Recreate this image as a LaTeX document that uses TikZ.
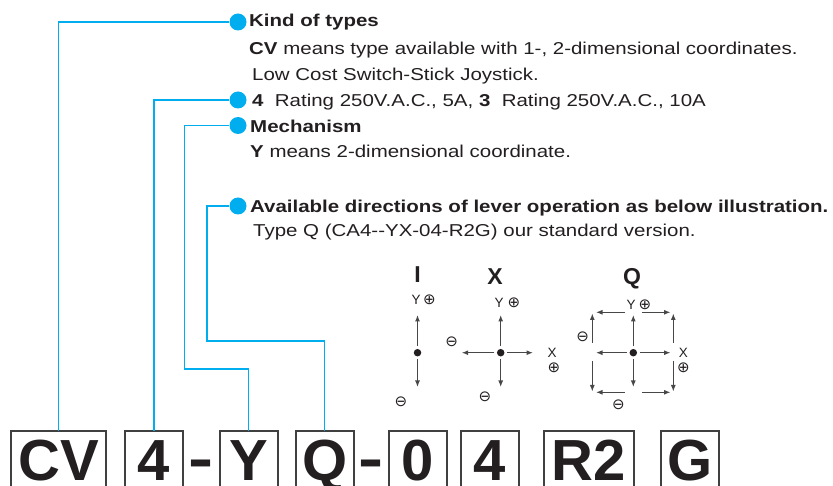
\documentclass[tikz,border=0pt]{standalone}
\usepackage{fontspec}
\setmainfont{Liberation Sans}
\newfontfamily\wide[FakeStretch=1.19]{Liberation Sans}
\newfontfamily\symf{DejaVu Sans}
\usetikzlibrary{arrows.meta}
\definecolor{cyanline}{RGB}{0,174,239}
\definecolor{ink}{RGB}{35,31,32}
\tikzset{
  dotb/.style={circle, fill=cyanline, inner sep=0pt, minimum size=17pt},
  link/.style={draw=cyanline, line width=1.1pt},
  codeframe/.style={draw=black!75, line width=1.2pt},
  codechar/.style={inner sep=0pt, anchor=base, text=ink,
    font=\fontsize{58}{58}\selectfont\bfseries},
  desc/.style={anchor=base west, inner sep=0pt, text=ink,
    font=\wide\fontsize{17.2}{20}\selectfont},
  dtitle/.style={anchor=base, inner sep=0pt, text=ink,
    font=\fontsize{23}{23}\selectfont\bfseries},
  arr/.style={-{Latex[length=6.5pt,width=5pt]}, draw=black!72, line width=1.1pt},
  cdot/.style={circle, fill=ink, inner sep=0pt, minimum size=7.5pt},
  sym/.style={inner sep=0pt, text=ink, font=\symf\fontsize{15}{15}\selectfont},
  axl/.style={inner sep=0pt, text=ink, font=\fontsize{13.5}{13.5}\selectfont},
}
\begin{document}
\begin{tikzpicture}[x=1pt,y=-1pt]
\useasboundingbox (0,0) rectangle (833,486);

% code characters
\node[codechar] (cCV) at (58.5,480) {CV};
\node[codechar] (c4) at (154,480) {4};
\node[codechar] (dash1) at (201.5,478) {\scalebox{1.3}[1]{-}};
\node[codechar] (cY) at (249,480) {Y};
\node[codechar] (cQ) at (325,480) {Q};
\node[codechar] (dash2) at (371,478) {\scalebox{1.3}[1]{-}};
\node[codechar] (c0) at (418,480) {0};
\node[codechar] (c4b) at (490,480) {4};
\node[codechar] (cR2) at (589,480) {R2};
\node[codechar] (cG) at (690,480) {G};

% code frames (open at the bottom edge of the picture)
\draw[codeframe] (11,492) |- (106,431) -- (106,492);
\draw[codeframe] (125,492) |- (183,431) -- (183,492);
\draw[codeframe] (220,492) |- (278,431) -- (278,492);
\draw[codeframe] (296,492) |- (354,431) -- (354,492);
\draw[codeframe] (389,492) |- (447,431) -- (447,492);
\draw[codeframe] (461,492) |- (519,431) -- (519,492);
\draw[codeframe] (544,492) |- (634,431) -- (634,492);
\draw[codeframe] (661,492) |- (719,431) -- (719,492);
\coordinate (fCV) at (58.5,431);
\coordinate (f4) at (154,431);
\coordinate (fY) at (248.5,431);
\coordinate (fQ) at (324.5,431);

% dots
\node[dotb] (d1) at (238,22) {};
\node[dotb] (d2) at (238,100) {};
\node[dotb] (d3) at (238,125.5) {};
\node[dotb] (d4) at (238,206) {};

% connectors
\draw[link] (fCV) |- (d1);
\draw[link] (f4) |- (d2);
\draw[link] (fY) |- (184.3,369) |- (d3);
\draw[link] (fQ) |- (207,341) |- (d4);

% descriptions
\node[desc] (t1) at (249,27) {\bfseries Kind of types};
\node[desc] (t2) at (249,55) {\textbf{CV} means type available with 1-, 2-dimensional coordinates.};
\node[desc] (t3) at (252,81) {Low Cost Switch-Stick Joystick.};
\node[desc] (t4) at (252,107) {\textbf{4}\ \ Rating 250V.A.C., 5A, \textbf{3}\ \ Rating 250V.A.C., 10A};
\node[desc] (t5) at (250,133) {\bfseries Mechanism};
\node[desc] (t6) at (250,158) {\textbf{Y} means 2-dimensional coordinate.};
\node[desc] (t7) at (250,213) {\bfseries Available directions of lever operation as below illustration.};
\node[desc] (t8) at (253,237) {Type Q (CA4-{}-YX-04-R2G) our standard version.};

% diagram I
\node[dtitle] (tI) at (417.5,282.5) {I};
\node[cdot] (ic) at (417.5,352.7) {};
\coordinate (iu) at (417.5,315);
\coordinate (id) at (417.5,387);
\draw[arr, shorten <=2.5pt] (ic) -- (iu);
\draw[arr, shorten <=2.5pt] (ic) -- (id);
\node[axl] (iyl) at (416,299.5) {Y};
\node[sym] (iyp) at (429.5,299.5) {⊕};
\node[sym] (iym) at (401,402) {⊖};

% diagram X
\node[dtitle] (tX) at (495,284.5) {X};
\node[cdot] (xc) at (500.7,352.7) {};
\coordinate (xu) at (500.7,315);
\coordinate (xd) at (500.7,387);
\coordinate (xl) at (461.7,352.7);
\coordinate (xr) at (533,352.7);
\draw[arr, shorten <=2.5pt] (xc) -- (xu);
\draw[arr, shorten <=2.5pt] (xc) -- (xd);
\draw[arr, shorten <=2.5pt] (xc) -- (xl);
\draw[arr, shorten <=2.5pt] (xc) -- (xr);
\node[axl] (xyl) at (499,303) {Y};
\node[sym] (xyp) at (514,303) {⊕};
\node[axl] (xxl) at (552,353) {X};
\node[sym] (xxp) at (554,368) {⊕};
\node[sym] (xxm) at (451.7,341.7) {⊖};
\node[sym] (xym) at (485,397) {⊖};

% diagram Q
\node[dtitle] (tQ) at (632,284.5) {Q};
\node[cdot] (qc) at (633.3,352.7) {};
\coordinate (qu) at (633.3,315);
\coordinate (qd) at (633.3,387);
\coordinate (ql) at (596,352.7);
\coordinate (qr) at (670.5,352.7);
\draw[arr, shorten <=2.5pt] (qc) -- (qu);
\draw[arr, shorten <=2.5pt] (qc) -- (qd);
\draw[arr, shorten <=2.5pt] (qc) -- (ql);
\draw[arr, shorten <=2.5pt] (qc) -- (qr);
% top row
\coordinate (qt1) at (625,312.3);  \coordinate (qt1e) at (596,312.3);
\coordinate (qt2) at (642,312.3);  \coordinate (qt2e) at (670.5,312.3);
\draw[arr] (qt1) -- (qt1e);
\draw[arr] (qt2) -- (qt2e);
% bottom row
\coordinate (qb1) at (625,392.3);  \coordinate (qb1e) at (596,392.3);
\coordinate (qb2) at (642,392.3);  \coordinate (qb2e) at (670.5,392.3);
\draw[arr] (qb1) -- (qb1e);
\draw[arr] (qb2) -- (qb2e);
% left side
\coordinate (ql1) at (592.3,343);  \coordinate (ql1e) at (592.3,313.5);
\coordinate (ql2) at (592.3,361);  \coordinate (ql2e) at (592.3,391.5);
\draw[arr] (ql1) -- (ql1e);
\draw[arr] (ql2) -- (ql2e);
% right side
\coordinate (qr1) at (673.3,343);  \coordinate (qr1e) at (673.3,313.5);
\coordinate (qr2) at (673.3,361);  \coordinate (qr2e) at (673.3,391.5);
\draw[arr] (qr1) -- (qr1e);
\draw[arr] (qr2) -- (qr2e);
\node[axl] (qyl) at (631,305) {Y};
\node[sym] (qyp) at (645,305) {⊕};
\node[sym] (qxm) at (582.7,336.7) {⊖};
\node[axl] (qxl) at (683.3,353) {X};
\node[sym] (qxp) at (683.3,368) {⊕};
\node[sym] (qym) at (618.3,405) {⊖};
\end{tikzpicture}
\end{document}
